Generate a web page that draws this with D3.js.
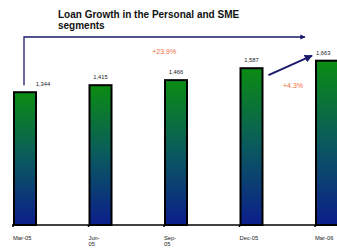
<!DOCTYPE html>
<html>
<head>
<meta charset="utf-8">
<script src="https://cdn.jsdelivr.net/npm/d3@7/dist/d3.min.js"></script>
<style>
  html, body { margin: 0; padding: 0; background: #fff; }
  svg { display: block; }
</style>
</head>
<body>
<div id="chart"></div>
<script>
const categories = ['Mar-05', 'Jun-05', 'Sep-05', 'Dec-05', 'Mar-06'];
const catLines = [['Mar-05'], ['Jun-', '05'], ['Sep-', '05'], ['Dec-05'], ['Mar-06']];
const values = [1344, 1415, 1466, 1587, 1663];
const valueLabels = ['1,344', '1,415', '1,466', '1,587', '1,663'];
const titleLines = ['Loan Growth in the Personal and SME', 'segments'];
const growthLabels = ['+23.9%', '+4.3%'];

const W = 337, H = 248;
const svg = d3.select('#chart').append('svg')
  .attr('width', W).attr('height', H);

const x = d3.scalePoint().domain(categories).range([13, 315]);
const y = d3.scaleLinear().domain([0, 2000]).range([225, 27.4]);
const barW = 24;

const defs = svg.append('defs');
const grad = defs.append('linearGradient').attr('id', 'barGrad')
  .attr('x1', 0).attr('y1', 0).attr('x2', 0).attr('y2', 1);
grad.append('stop').attr('offset', '0%').attr('stop-color', '#0b8c12');
grad.append('stop').attr('offset', '50%').attr('stop-color', '#0a5a5e');
grad.append('stop').attr('offset', '100%').attr('stop-color', '#0c1e8c');

defs.append('marker').attr('id', 'arrow')
  .attr('viewBox', '0 0 10 10').attr('refX', 9).attr('refY', 5)
  .attr('markerWidth', 4).attr('markerHeight', 4).attr('orient', 'auto')
  .append('path').attr('d', 'M0,0 L10,5 L0,10 Z').attr('fill', '#1a1a6a');

// title
svg.append('text')
  .attr('font-family', 'Liberation Sans, Arial, sans-serif')
  .attr('font-weight', 'bold').attr('font-size', 10).attr('fill', '#111')
  .selectAll('tspan').data(titleLines).enter().append('tspan')
  .attr('x', 58).attr('y', (d, i) => 18 + i * 11).text(d => d);

// bars
svg.selectAll('rect.bar').data(values).enter().append('rect')
  .attr('class', 'bar')
  .attr('x', (d, i) => x(categories[i]) + 1)
  .attr('y', d => y(d))
  .attr('width', barW - 2)
  .attr('height', d => y(0) - y(d))
  .attr('fill', 'url(#barGrad)')
  .attr('stroke', '#000').attr('stroke-width', 2);

// x axis
svg.append('line').attr('x1', 12).attr('x2', W).attr('y1', y(0)).attr('y2', y(0))
  .attr('stroke', '#000').attr('stroke-width', 1.6);
svg.selectAll('line.tick').data(categories).enter().append('line')
  .attr('x1', d => x(d)).attr('x2', d => x(d))
  .attr('y1', y(0)).attr('y2', y(0) + 2)
  .attr('stroke', '#000').attr('stroke-width', 1.5);

const catText = svg.selectAll('text.cat').data(catLines).enter().append('text')
  .attr('font-family', 'Liberation Sans, Arial, sans-serif')
  .attr('font-size', 5.8).attr('fill', '#222');
catText.selectAll('tspan').data((d, i) => d.map(t => ({ t, i }))).enter().append('tspan')
  .attr('x', d => x(categories[d.i]))
  .attr('dy', (d, j) => j === 0 ? 0 : 6)
  .text(d => d.t);
catText.attr('y', 240);

// value labels
svg.selectAll('text.val').data(values).enter().append('text')
  .attr('x', (d, i) => i === 0 ? x(categories[i]) + 30 : (i === 4 ? x(categories[i]) + 1 : x(categories[i]) + barW / 2))
  .attr('y', d => y(d) - 6)
  .attr('text-anchor', (d, i) => i === 0 ? 'middle' : (i === 4 ? 'start' : 'middle'))
  .attr('font-family', 'Liberation Sans, Arial, sans-serif')
  .attr('font-size', 5.8).attr('fill', '#222')
  .text((d, i) => valueLabels[i]);

// long growth arrow
const arrowY = 37;
svg.append('path')
  .attr('d', `M${x(categories[0]) + 11},${y(values[0]) - 7} L${x(categories[0]) + 11},${arrowY} L${x(categories[4]) - 10},${arrowY}`)
  .attr('fill', 'none').attr('stroke', '#1a1a6a').attr('stroke-width', 1.3)
  .attr('marker-end', 'url(#arrow)');

svg.append('text')
  .attr('x', (x(categories[2]) + x(categories[1])) / 2 + 38)
  .attr('y', 54)
  .attr('text-anchor', 'middle')
  .attr('font-family', 'Liberation Sans, Arial, sans-serif')
  .attr('font-size', 7).attr('fill', '#f06a3a')
  .text(growthLabels[0]);

// short growth arrow
svg.append('line')
  .attr('x1', x(categories[3]) + barW + 5).attr('y1', y(values[3]) + 7)
  .attr('x2', x(categories[4]) - 3).attr('y2', y(values[4]) - 5)
  .attr('stroke', '#1a1a6a').attr('stroke-width', 2)
  .attr('marker-end', 'url(#arrow)');

svg.append('text')
  .attr('x', 293).attr('y', 88)
  .attr('text-anchor', 'middle')
  .attr('font-family', 'Liberation Sans, Arial, sans-serif')
  .attr('font-size', 7).attr('fill', '#f06a3a')
  .text(growthLabels[1]);
</script>
</body>
</html>
